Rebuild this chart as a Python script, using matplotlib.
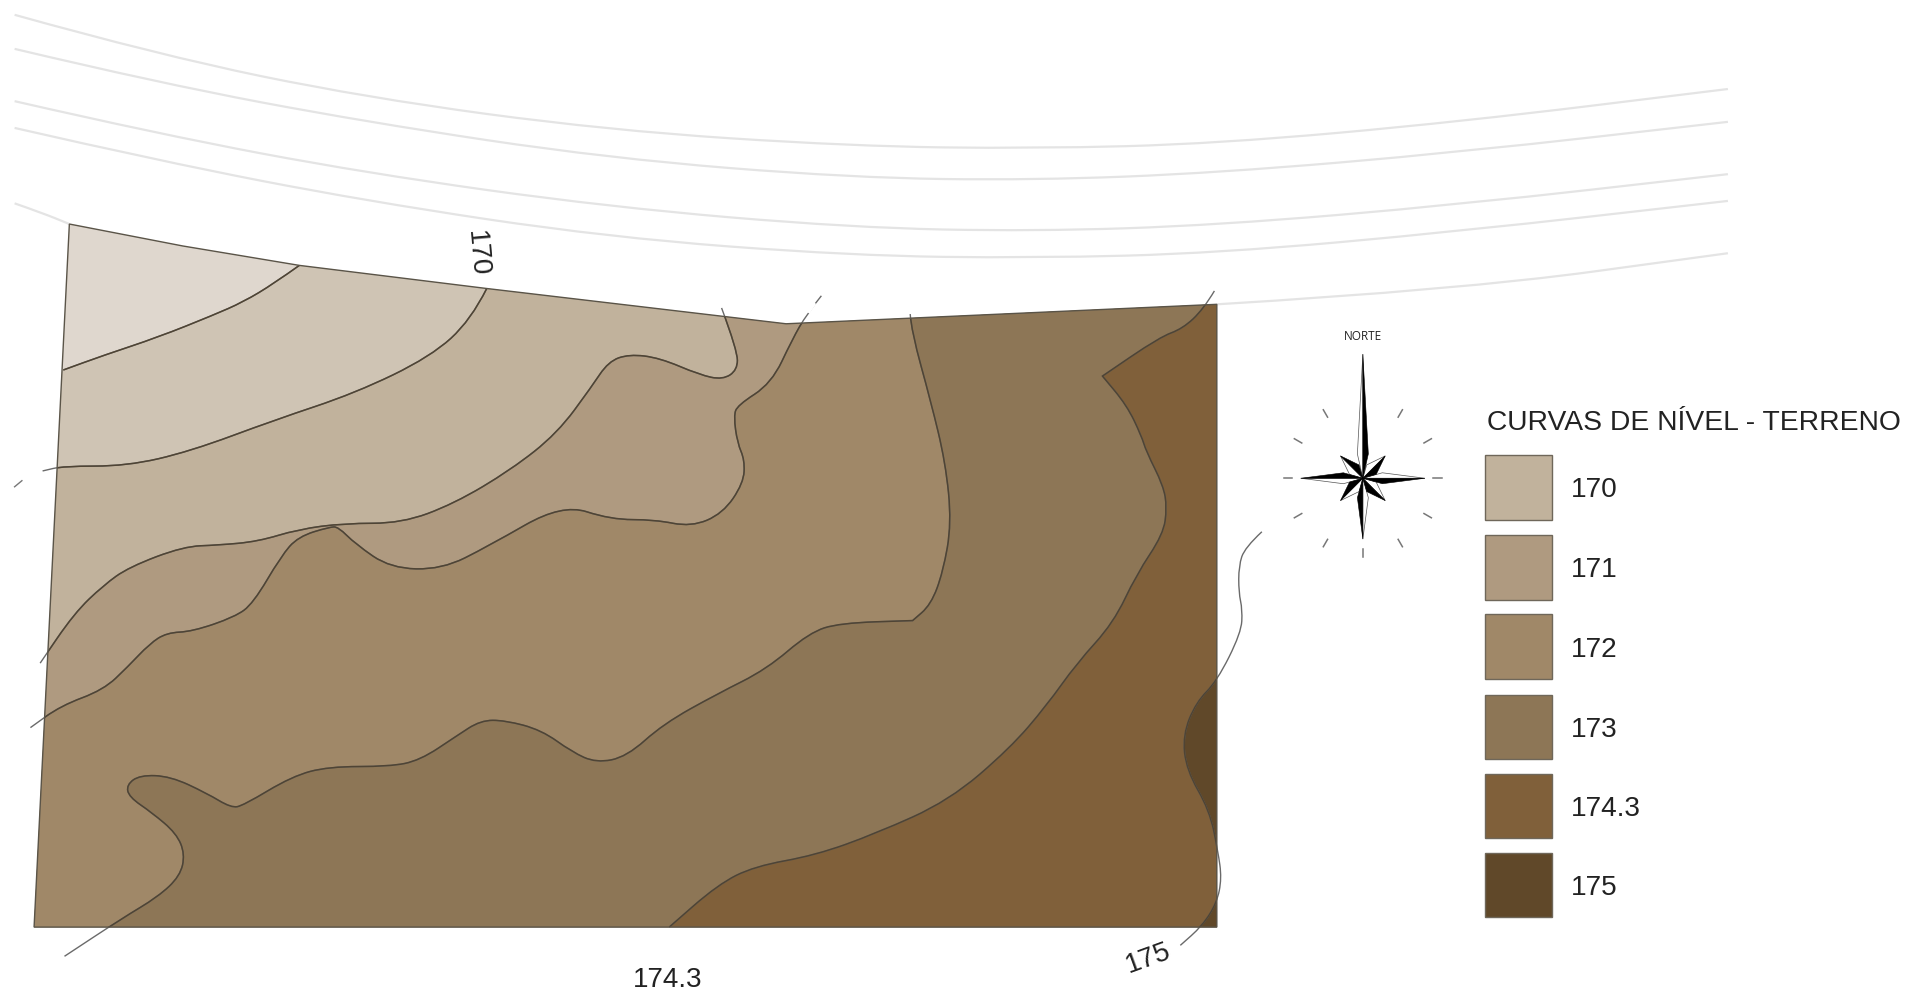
import numpy as np
import matplotlib
matplotlib.use('Agg')
import matplotlib.pyplot as plt
from matplotlib.path import Path
from matplotlib.patches import PathPatch, Polygon, Rectangle

plt.rcParams['font.family'] = ['Liberation Sans', 'DejaVu Sans']

# map units: sheet coordinates
site = [(57, 184), (150, 202), (246, 218), (400, 237), (646, 266), (1000, 250), (1000, 762), (28, 762)]

# street lines above the site
street_1 = [(12, 12), (130, 45), (300, 80), (500, 107), (700, 120), (850, 122), (1000, 118), (1200, 100), (1420, 73)]
street_2 = [(12, 40), (130, 68), (300, 100), (500, 130), (700, 146), (850, 148), (1000, 142), (1200, 125), (1420, 100)]
street_3 = [(12, 83), (130, 110), (300, 142), (500, 170), (700, 187), (850, 190), (1000, 185), (1200, 168), (1420, 143)]
street_4 = [(12, 105), (130, 132), (300, 165), (500, 195), (700, 210), (850, 212), (1000, 208), (1200, 190), (1420, 165)]
street_5a = [(12, 167), (35, 175), (57, 184)]
street_5b = [(1000, 250), (1200, 238), (1420, 208)]

# contour lines
curve_a = [(246, 218), (225, 233), (200, 248), (175, 259), (130, 277), (85, 292), (52, 304)]
curve_b = [(400, 237), (387, 263), (354, 293), (292, 323), (226, 345), (156, 371), (104, 383), (52, 383), (35, 387)]
curve_c = [(593, 253), (606, 288), (606, 304), (594, 312), (575, 308), (542, 294), (517, 291), (500, 297),
           (486, 318), (458, 356), (420, 386), (373, 414), (330, 430), (283, 430), (245, 435), (212, 445),
           (179, 448), (151, 449), (106, 466), (85, 481), (61, 504), (33, 545)]
curve_d = [(675, 243), (663, 258), (651, 279), (634, 315), (606, 333), (603, 342), (606, 364), (612, 378),
           (611, 397), (594, 422), (568, 433), (538, 427), (502, 427), (462, 414), (401, 449), (363, 468),
           (321, 467), (292, 447), (278, 433), (271, 433), (245, 441), (231, 457), (208, 496), (193, 507), (158, 519),
           (137, 520), (123, 529), (105, 548), (85, 567), (50, 580), (25, 598)]
curve_e = [(748, 258), (749, 272), (765, 330), (777, 380), (782, 430), (775, 470), (765, 497), (750, 510), (750, 510),
           (690, 512), (665, 520), (630, 550), (590, 570), (545, 595), (515, 622), (490, 627), (470, 618),
           (445, 600), (415, 592), (395, 592), (375, 605), (345, 625), (320, 630), (270, 630), (240, 638),
           (200, 662), (190, 664), (170, 652), (140, 638), (115, 637), (104, 645), (106, 655), (125, 668), (145, 685),
           (152, 702), (148, 720), (130, 737), (100, 755), (53, 786)]
curve_f = [(998, 239), (989, 254), (972, 270), (953, 277), (906, 309), (906, 309), (926, 333), (938, 358),
           (942, 371), (956, 399), (959, 417), (956, 439), (934, 472), (915, 512), (885, 545), (860, 580),
           (830, 615), (780, 658), (720, 685), (670, 703), (620, 712), (590, 727), (550, 762)]
curve_g = [(1037, 437), (1023, 450), (1018, 465), (1018, 487), (1021, 501), (1020, 520), (1000, 560),
           (983, 577), (972, 604), (975, 633), (994, 666), (1001, 700), (1004, 722), (1000, 742),
           (988, 761), (970, 777)]

# loose bits of contour outside the site
stub_left = [(12, 400), (18, 395)]
gap_top = [(669, 250), (665, 256)]

legend_labels = ['170', '171', '172', '173', '174.3', '175']
legend_colors = ['#C1B29C', '#AF9A80', '#A08868', '#8D7656', '#80603A', '#604829']
color_top = '#DFD7CE'
color_second = '#CFC4B4'
line_color = '#4F4434'


def smooth(points):
    # quadratic segments through the midpoints, sharp where a point is repeated
    pts = np.array(points, dtype=float)
    verts = [pts[0]]
    codes = [Path.MOVETO]
    for i in range(1, len(pts) - 1):
        verts += [pts[i], (pts[i] + pts[i + 1]) / 2]
        codes += [Path.CURVE3, Path.CURVE3]
    verts.append(pts[-1])
    codes.append(Path.LINETO)
    return verts, codes


def fill_beyond(ax, points, closing, color, clip):
    verts, codes = smooth(points)
    verts = verts + [np.array(p, dtype=float) for p in closing] + [verts[0]]
    codes = codes + [Path.LINETO] * len(closing) + [Path.CLOSEPOLY]
    patch = PathPatch(Path(verts, codes), facecolor=color, edgecolor='none', zorder=2)
    ax.add_patch(patch)
    patch.set_clip_path(clip)


def draw_curve(ax, points, color=line_color, lw=1.1, zorder=4, clip=None):
    verts, codes = smooth(points)
    patch = PathPatch(Path(verts, codes), facecolor='none', edgecolor=color, lw=lw, zorder=zorder)
    ax.add_patch(patch)
    if clip is not None:
        patch.set_clip_path(clip)


fig = plt.figure(figsize=(19.08, 9.95), dpi=100)
ax = fig.add_axes([0, 0, 1, 1])
ax.set_xlim(0, 1568)
ax.set_ylim(817, -1)
ax.axis('off')

# site and elevation bands
outline = Polygon(site, closed=True, facecolor=color_top, edgecolor='none', zorder=1)
ax.add_patch(outline)

fill_beyond(ax, curve_a, [(0, 320), (0, 818), (1100, 818), (1100, 0), (246, 0)], color_second, outline)
fill_beyond(ax, curve_b, [(0, 395), (0, 818), (1100, 818), (1100, 0), (400, 0)], legend_colors[0], outline)
fill_beyond(ax, curve_c, [(0, 600), (0, 818), (1100, 818), (1100, 0), (593, 0)], legend_colors[1], outline)
fill_beyond(ax, curve_d, [(0, 818), (1100, 818), (1100, 0), (675, 0)], legend_colors[2], outline)
fill_beyond(ax, curve_e, [(53, 818), (1100, 818), (1100, 0), (748, 0)], legend_colors[3], outline)
fill_beyond(ax, curve_f, [(550, 818), (1100, 818), (1100, 0), (998, 0)], legend_colors[4], outline)
fill_beyond(ax, curve_g, [(1100, 777), (1100, 437)], legend_colors[5], outline)

for curve in [curve_a, curve_b, curve_c, curve_d, curve_e, curve_f, curve_g]:
    draw_curve(ax, curve, color='#6A6A6A', lw=1.0, zorder=3.5)
    draw_curve(ax, curve, clip=outline)
ax.plot(*zip(*stub_left), color='#777777', lw=1.0, zorder=4)
ax.plot(*zip(*gap_top), color='white', lw=2.2, zorder=4.5)

ax.add_patch(Polygon(site, closed=True, facecolor='none', edgecolor='#5A5448', lw=1.0, zorder=5))

for street in [street_1, street_2, street_3, street_4, street_5a, street_5b]:
    draw_curve(ax, street, color='#E4E4E4', lw=1.6, zorder=3)

# labels on the map
ax.text(392, 207, '170', rotation=-85, fontsize=20, color='#222222', ha='center', va='center')
ax.text(549, 805, '174.3', fontsize=20, color='#222222', ha='center', va='center')
ax.text(944, 787, '175', rotation=20, fontsize=20, color='#222222', ha='center', va='center')

# north arrow
cx, cy = 1120, 393
ax.text(cx, 276, 'NORTE', fontsize=8.5, color='#222222', ha='center', va='center', family='Open Sans')
arms = [(90, 102, 20, 4.5), (0, 51, 16, 4.5), (270, 50, 16, 4.5), (180, 51, 16, 4.5),
        (45, 26, 10, 5.5), (135, 26, 10, 5.5), (225, 26, 10, 5.5), (315, 26, 10, 5.5)]
center = np.array([cx, cy])
for angle, length, base_at, half in arms:
    a = np.radians(angle)
    d = np.array([np.cos(a), -np.sin(a)])
    n = np.array([-d[1], d[0]])
    tip = center + d * length
    base = center + d * base_at
    ax.add_patch(Polygon([center, tip, base + n * half], facecolor='black', edgecolor='black', lw=0.4, zorder=7))
    ax.add_patch(Polygon([center, tip, base - n * half], facecolor='white', edgecolor='#555555', lw=0.5, zorder=6))
for angle in range(0, 360, 30):
    if angle == 90:
        continue
    a = np.radians(angle)
    ax.plot([cx + 58 * np.cos(a), cx + 65 * np.cos(a)], [cy - 58 * np.sin(a), cy - 65 * np.sin(a)],
            color='#777777', lw=1.1, zorder=5)

# legend
ax.text(1222, 347, 'CURVAS DE NÍVEL - TERRENO', fontsize=20.35, color='#222222', ha='left', va='center')
swatch_tops = [374, 440, 505, 571, 636, 701]
for top, color, label in zip(swatch_tops, legend_colors, legend_labels):
    ax.add_patch(Rectangle((1220.5, top), 55, 53, facecolor=color, edgecolor='#6F675A', lw=1.0, zorder=3))
    ax.text(1291, top + 28, label, fontsize=20.2, color='#222222', ha='left', va='center')

fig.savefig('out.png', dpi=100)
